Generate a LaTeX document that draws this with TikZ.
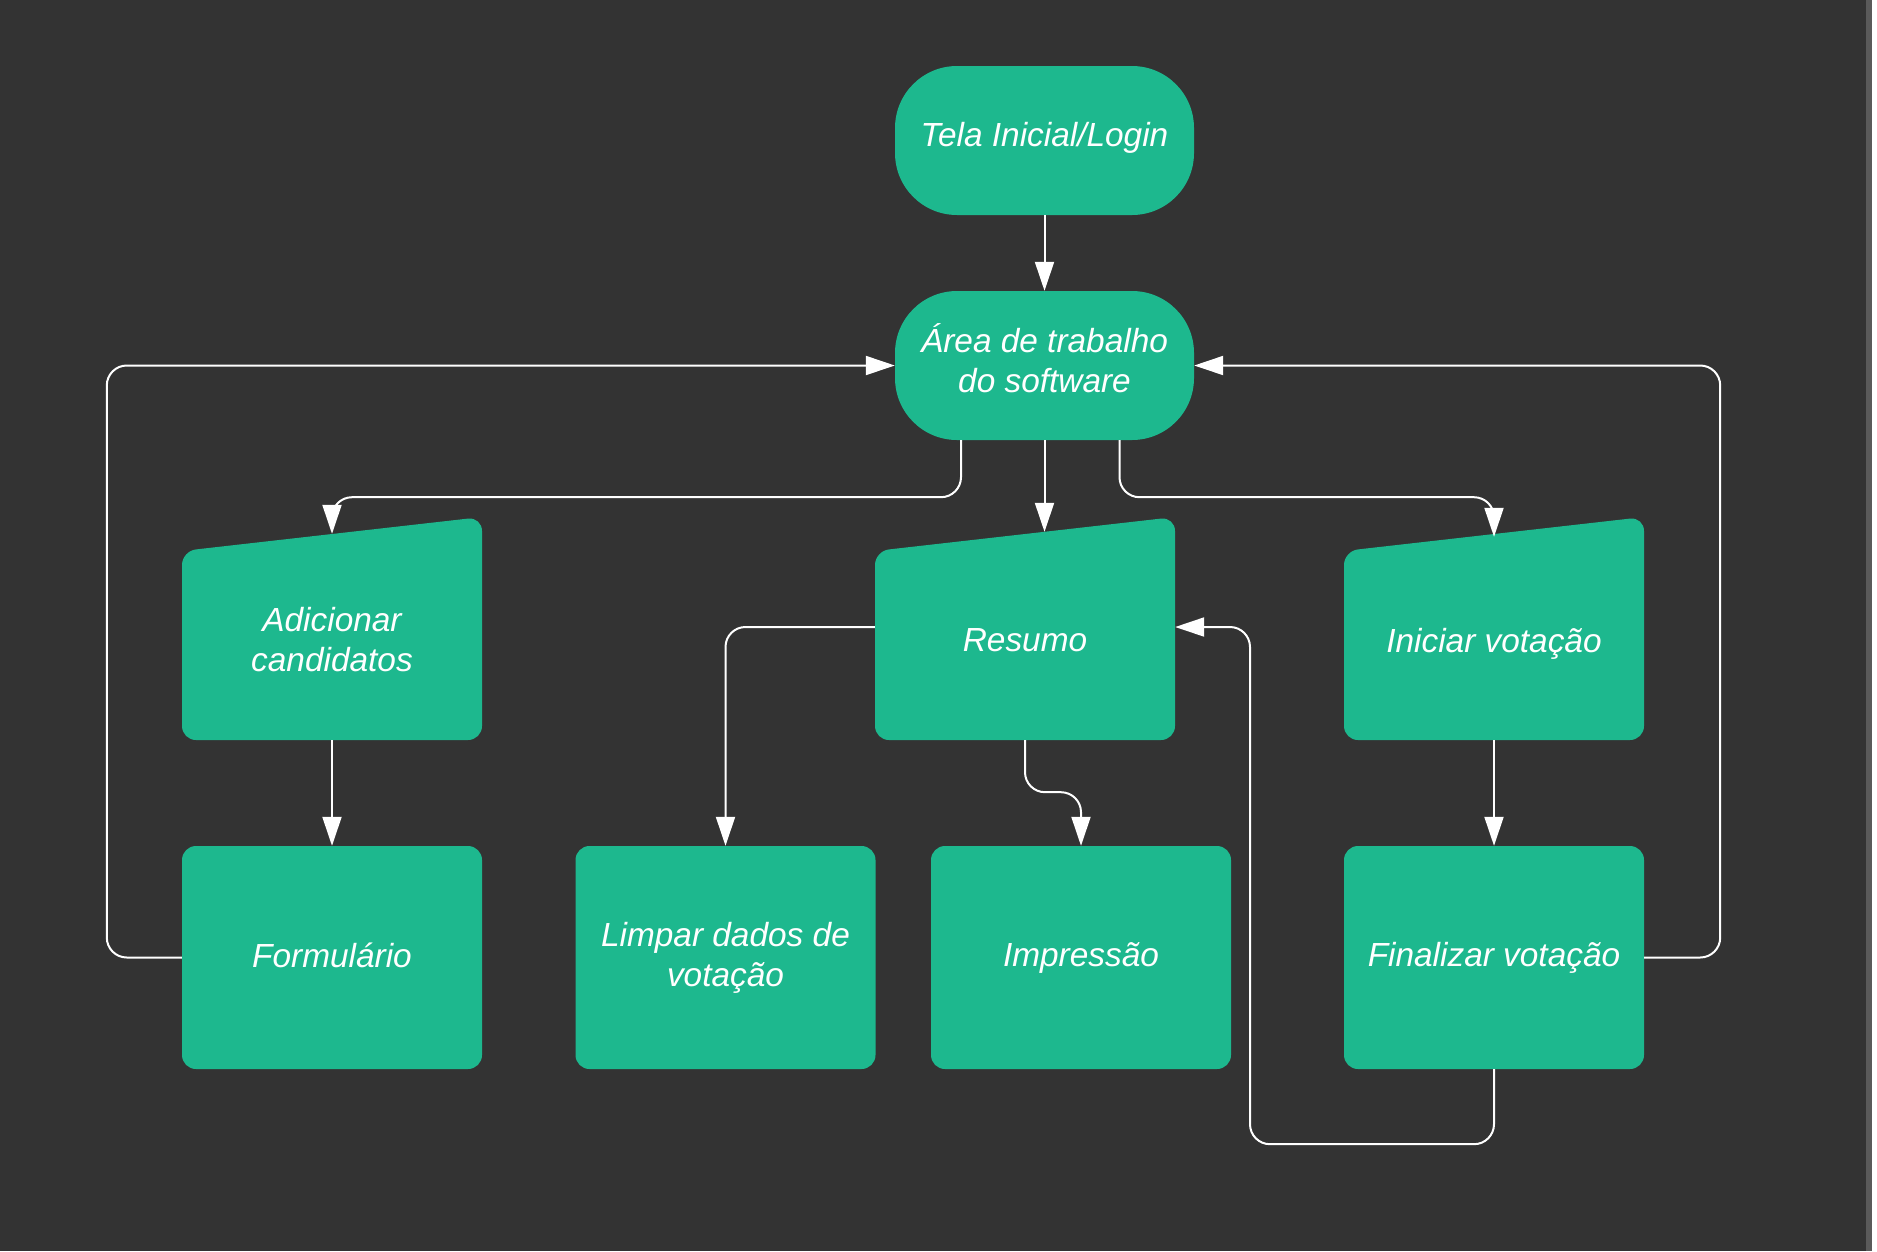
\documentclass[tikz,border=0pt]{standalone}
\usepackage{fontspec}
\usepackage{tikz}
\usetikzlibrary{arrows.meta}
\newfontfamily\arialfont{Liberation Sans}
\definecolor{bgdark}{HTML}{333333}
\definecolor{boxgreen}{HTML}{1DB88E}
\definecolor{stripgray}{HTML}{5A5A5A}

\begin{document}
\begin{tikzpicture}[x=1pt, y=-1pt,
    lbl/.style={text=white, align=center, font=\arialfont\itshape\fontsize{33.4}{40}\selectfont},
    stadium/.style={lbl, fill=boxgreen, rounded corners=62pt, minimum width=299pt, minimum height=149pt},
    procbox/.style={lbl, fill=boxgreen, rounded corners=14pt, minimum width=300pt, minimum height=223pt},
    link/.style={draw=white, line width=2pt, rounded corners=20pt},
    arr/.style={link, -{Triangle[length=29pt, width=19pt]}}]
  \useasboundingbox (0,0) rectangle (1877,1251);
  \fill[bgdark] (0,0) rectangle (1866,1251);
  \fill[stripgray] (1866,0) rectangle (1872,1251);
  \fill[white] (1872,0) rectangle (1877,1251);
  % inicio
  \node[stadium, text depth=12pt] (tela) at (1044.5,140.5) {Tela Inicial/Login};
  \node[stadium, text depth=14pt] (area) at (1044.5,365.5) {Área de trabalho\\do software};
  % entradas (topo inclinado)
  \foreach \nm/\cx/\txt in {adic/332/{Adicionar\\candidatos}, resumo/1025/Resumo, iniciar/1494/{\raisebox{-3.6pt}[\height][\depth]{Iniciar votação}}} {
    \fill[boxgreen, rounded corners=14pt] (\cx,740) -- (\cx-150,740) -- (\cx-150,551) -- (\cx+150,517) -- (\cx+150,740) -- cycle;
    \node[lbl, minimum width=300pt, minimum height=200pt] (\nm) at (\cx,640) {\txt};
  }
  % linha de baixo
  \node[procbox, text depth=5pt] (form) at (332,957.5) {Formulário};
  \node[procbox] (limpar) at (725.5,957.5) {Limpar dados de\\votação};
  \node[procbox] (impr) at (1081,957.5) {Impressão};
  \node[procbox] (final) at (1494,957.5) {Finalizar votação};
  % ligacoes
  \draw[arr] (tela.south) -- (area.north);
  \draw[arr] ([xshift=-83.5pt]area.south) -- ++(0,57) -| ([yshift=6pt]adic.north);
  \draw[arr] (area.south) -- ([xshift=19.5pt,yshift=8pt]resumo.north);
  \draw[arr] ([xshift=75pt]area.south) -- ++(0,57) -| ([yshift=3pt]iniciar.north);
  \draw[arr] (adic.south) -- (form.north);
  \draw[arr] (iniciar.south) -- (final.north);
  \draw[arr] (form.west) -- ++(-75,0) |- (area.west);
  \draw[arr] (final.east) -- ++(76,0) |- (area.east);
  \draw[arr] ([yshift=13pt]resumo.west) -| (limpar.north);
  \draw[arr] (resumo.south) -- ++(0,52) -| (impr.north);
  \draw[arr] (final.south) -- ++(0,75) -- ++(-244,0) |- ([yshift=13pt]resumo.east);
\end{tikzpicture}
\end{document}
